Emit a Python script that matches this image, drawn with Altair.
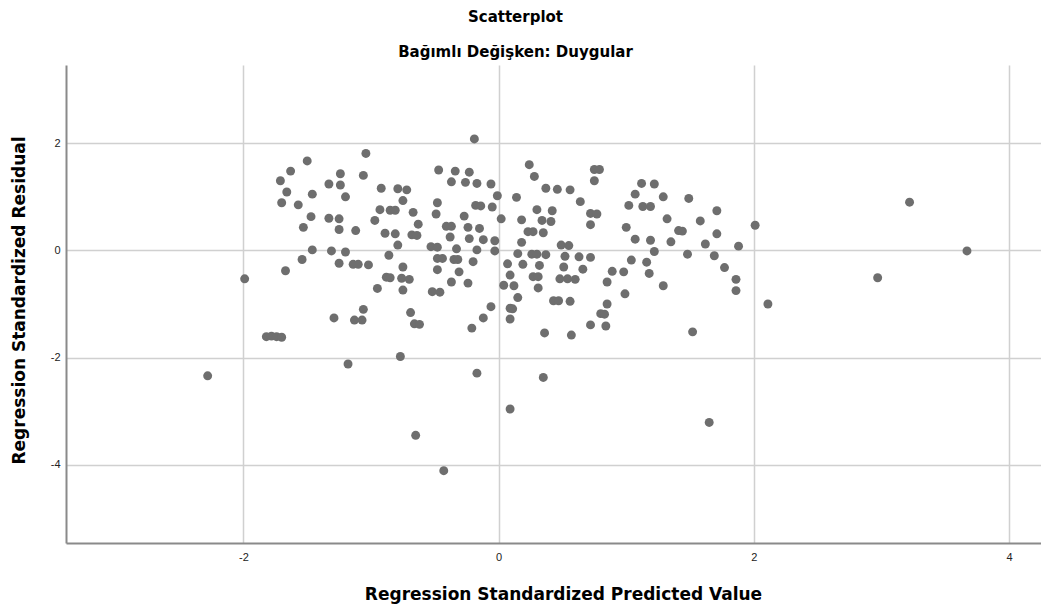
import altair as alt
import pandas as pd

# Regression standardized predicted values (x) and residuals (y)
pred = [
    -1.50, -1.63, -1.71, -1.24, -1.33, -1.24, -1.66, -1.46, -1.20, -1.70,
    -1.57, -1.47, -1.33, -1.25, -1.53, -1.25, -1.46, -1.31, -1.20, -1.54,
    -1.25, -1.67, -1.99, -1.29, -1.82, -1.78, -1.74, -1.70, -1.18, -2.28,
    -0.19, -1.04, -1.06, -0.47, -0.34, -0.23, -0.92, -0.79, -0.72, -0.37,
    -0.26, -0.17, -0.06, -0.01, -0.75, -0.48, -0.93, -0.85, -0.81, -0.67,
    -0.49, -0.18, -0.14, -0.05, -0.27, -0.97, -0.63, 0.02, -1.12, -0.41,
    -0.37, -0.24, -0.15, -0.89, -0.81, -0.68, -0.64, -0.38, -0.23, -0.12,
    -0.03, -0.79, -0.53, -0.48, -0.33, -0.17, -0.03, -0.86, -0.48, -0.44,
    -0.35, -0.32, -1.14, -1.10, -1.02, -0.75, -0.20, -0.48, -0.31, -0.88,
    -0.85, -0.76, -0.70, -0.95, -0.75, -0.52, -0.46, -0.37, -0.24, -1.06,
    -1.13, -1.07, -0.69, -0.66, -0.62, -0.06, -0.12, -0.21, -0.77, -0.17,
    -0.65, -0.43, 0.09, 1.65, 0.24, 0.28, 0.75, 0.79, 0.75, 0.37,
    0.46, 0.56, 0.14, 0.64, 1.12, 1.07, 1.02, 1.13, 1.19, 0.30,
    0.42, 0.18, 0.34, 0.41, 0.72, 0.77, 0.72, 0.23, 0.27, 0.35,
    1.00, 1.07, 1.19, 0.18, 0.49, 0.55, 0.15, 0.26, 0.30, 0.37,
    0.52, 0.63, 0.72, 1.04, 0.07, 0.19, 0.32, 0.51, 0.66, 1.16,
    0.09, 0.27, 0.31, 0.48, 0.54, 0.60, 0.89, 0.98, 1.18, 0.85,
    0.04, 0.12, 0.31, 0.99, 0.15, 0.43, 0.47, 0.56, 0.09, 0.11,
    0.85, 0.80, 0.83, 0.09, 0.72, 0.84, 0.36, 0.57, 0.35, 1.22,
    1.29, 1.49, 1.71, 1.32, 1.58, 1.41, 1.44, 1.71, 2.01, 1.35,
    1.62, 1.88, 1.22, 1.48, 1.69, 1.29, 1.77, 1.86, 1.86, 2.11,
    1.52, 3.22, 3.67, 2.97,
]
resid = [
    1.67, 1.48, 1.30, 1.43, 1.24, 1.22, 1.09, 1.05, 1.00, 0.89,
    0.85, 0.63, 0.60, 0.59, 0.43, 0.39, 0.01, -0.01, -0.03, -0.17,
    -0.24, -0.38, -0.53, -1.26, -1.61, -1.60, -1.61, -1.62, -2.12, -2.34,
    2.08, 1.81, 1.40, 1.50, 1.48, 1.46, 1.16, 1.15, 1.13, 1.28,
    1.27, 1.25, 1.24, 1.02, 0.93, 0.89, 0.76, 0.75, 0.75, 0.71,
    0.68, 0.84, 0.83, 0.81, 0.64, 0.56, 0.49, 0.59, 0.37, 0.45,
    0.45, 0.43, 0.41, 0.32, 0.31, 0.29, 0.28, 0.25, 0.22, 0.20,
    0.18, 0.10, 0.07, 0.06, 0.03, 0.01, -0.01, -0.09, -0.15, -0.15,
    -0.17, -0.17, -0.26, -0.26, -0.27, -0.31, -0.21, -0.36, -0.40, -0.50,
    -0.51, -0.52, -0.54, -0.71, -0.74, -0.77, -0.78, -0.59, -0.61, -1.10,
    -1.30, -1.30, -1.16, -1.37, -1.38, -1.05, -1.26, -1.45, -1.98, -2.29,
    -3.45, -4.11, -2.96, -3.21, 1.60, 1.38, 1.51, 1.51, 1.30, 1.16,
    1.14, 1.13, 0.99, 0.91, 1.25, 1.05, 0.84, 0.82, 0.82, 0.76,
    0.74, 0.57, 0.56, 0.54, 0.69, 0.68, 0.48, 0.35, 0.35, 0.33,
    0.43, 0.21, 0.19, 0.15, 0.10, 0.09, -0.06, -0.07, -0.07, -0.08,
    -0.11, -0.12, -0.13, -0.18, -0.25, -0.26, -0.28, -0.31, -0.35, -0.22,
    -0.46, -0.49, -0.49, -0.53, -0.53, -0.54, -0.39, -0.40, -0.43, -0.59,
    -0.65, -0.66, -0.70, -0.81, -0.88, -0.94, -0.94, -0.95, -1.08, -1.09,
    -1.00, -1.18, -1.19, -1.28, -1.39, -1.41, -1.54, -1.58, -2.37, 1.24,
    1.00, 0.97, 0.74, 0.59, 0.55, 0.37, 0.36, 0.31, 0.47, 0.16,
    0.12, 0.08, -0.02, -0.07, -0.10, -0.66, -0.32, -0.54, -0.75, -1.00,
    -1.52, 0.90, -0.01, -0.51,
]

x_ticks = [-2, 0, 2, 4]
y_ticks = [-4, -2, 0, 2]

df = pd.DataFrame({"pred": pred, "resid": resid})

FONT = "Liberation Sans"
TFONT = "DejaVu Sans"
label_expr = "datum.value < 0 ? '-' + abs(datum.value) : '' + datum.value"

chart = (
    alt.Chart(df)
    .mark_circle(size=80, color="#6e6e6e", opacity=1)
    .encode(
        x=alt.X(
            "pred:Q",
            scale=alt.Scale(domain=[-3.39, 4.25], nice=False, zero=False),
            axis=alt.Axis(
                title="Regression Standardized Predicted Value",
                values=x_ticks,
                labelExpr=label_expr,
                ticks=False,
                labelPadding=8,
                titlePadding=24,
                titleX=497,
                grid=True,
            ),
        ),
        y=alt.Y(
            "resid:Q",
            scale=alt.Scale(domain=[-5.46, 3.46], nice=False, zero=False),
            axis=alt.Axis(
                title="Regression Standardized Residual",
                values=y_ticks,
                labelExpr=label_expr,
                ticks=False,
                labelPadding=6,
                titlePadding=22,
                titleY=235,
                grid=True,
            ),
        ),
    )
    .properties(
        width=975,
        height=478,
        autosize=alt.AutoSizeParams(type="none"),
        padding={"left": 58, "top": 57, "right": 0, "bottom": 70},
        title=alt.Title(
            text="Scatterplot",
            subtitle="Bağımlı Değişken: Duygular",
            font=TFONT,
            fontSize=15,
            fontWeight="bold",
            color="#000000",
            subtitleFont=TFONT,
            subtitleFontSize=15,
            subtitleFontWeight="bold",
            subtitleColor="#000000",
            subtitlePadding=20,
            anchor="middle",
            dx=-38,
            offset=5,
        ),
    )
    .configure_view(stroke=None)
    .configure_axis(
        labelFont=FONT,
        labelFontSize=11,
        labelColor="#222222",
        titleFont=TFONT,
        titleFontSize=17,
        titleFontWeight="bold",
        titleColor="#000000",
        gridColor="#d0d0d0",
        gridWidth=1.5,
        domainColor="#8a8a8a",
        domainWidth=2,
    )
)

chart.save("out.html", embed_options={"renderer": "svg", "actions": False})
